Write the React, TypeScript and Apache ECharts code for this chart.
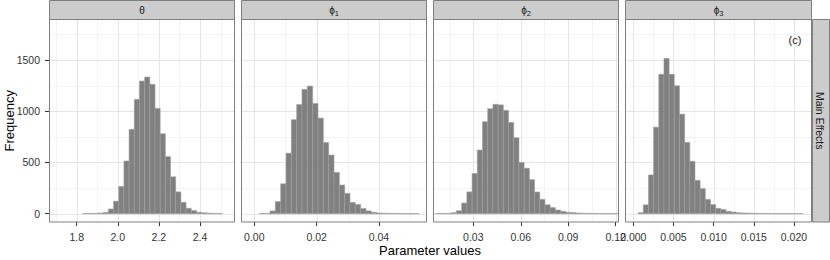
import React, { useEffect, useRef } from "react";
import * as echarts from "echarts";

// ---------- data ----------
const STRIP_SYMBOLS = ["θ", "ϕ", "ϕ", "ϕ"];
const STRIP_SUBS = ["", "1", "2", "3"];
const ROW_LABEL = "Main Effects";
const PANEL_TAG = "(c)";
const X_TITLE = "Parameter values";
const Y_TITLE = "Frequency";

const Y_TICKS = [0, 500, 1000, 1500];
const Y_MINOR = [250, 750, 1250, 1750];
const Y_RANGE = [-81, 1895];

// theta
const THETA_COUNTS = [1, 2, 3, 6, 13, 46, 122, 265, 514, 823, 1115, 1294, 1333, 1262, 1028, 780, 557, 360, 213, 111, 53, 31, 14, 9, 5, 3, 1];
const THETA_BIN_START = 1.8282;
const THETA_BIN_WIDTH = 0.0252;
const THETA_RANGE = [1.6652, 2.5703];
const THETA_TICKS = [1.8, 2.0, 2.2, 2.4];
const THETA_MINOR = [1.7, 1.9, 2.1, 2.3, 2.5];

// phi1
const PHI1_COUNTS = [1, 2, 27, 118, 292, 590, 917, 1065, 1213, 1245, 1076, 932, 694, 572, 403, 280, 198, 110, 90, 50, 27, 13, 7, 4, 3, 2, 2, 1, 1, 1];
const PHI1_BIN_START = 0.001618;
const PHI1_BIN_WIDTH = 0.001711;
const PHI1_RANGE = [-0.004267, 0.0554];
const PHI1_TICKS = [0.0, 0.02, 0.04];
const PHI1_MINOR = [0.01, 0.03, 0.05];

// phi2
const PHI2_COUNTS = [1, 2, 4, 10, 29, 104, 213, 392, 621, 898, 1025, 1067, 1062, 1008, 890, 741, 499, 444, 332, 211, 140, 87, 60, 36, 23, 13, 10, 6, 4, 3, 2, 2, 1, 1, 1];
const PHI2_BIN_START = 0.00621;
const PHI2_BIN_WIDTH = 0.00329;
const PHI2_RANGE = [0.004531, 0.12209];
const PHI2_TICKS = [0.03, 0.06, 0.09, 0.12];
const PHI2_MINOR = [0.015, 0.045, 0.075, 0.105];

// phi3
const PHI3_COUNTS = [10, 86, 378, 844, 1360, 1515, 1360, 1249, 971, 696, 511, 325, 244, 140, 89, 52, 42, 23, 16, 10, 7, 5, 4, 3, 2, 2, 1, 1, 1, 1, 1, 1];
const PHI3_BIN_START = 0.000601;
const PHI3_BIN_WIDTH = 0.000643;
const PHI3_RANGE = [-0.001033, 0.02224];
const PHI3_TICKS = [0.0, 0.005, 0.01, 0.015, 0.02];
const PHI3_MINOR = [0.0025, 0.0075, 0.0125, 0.0175];

// ---------- layout / style ----------
const FONT = '"Liberation Sans", Arial, Helvetica, sans-serif';
const PANEL_LEFT = [49, 241, 433, 625];
const PANEL_WIDTH = [186, 186, 186, 187];
const PANEL_TOP = 19.5;
const PANEL_BOTTOM = 222;
const STRIP_RIGHT_X = 812;
const BORDER = "#7f7f7f";
const STRIP_FILL = "#cccccc";
const MAJOR_GRID = "#e5e5e5";
const MINOR_GRID = "#f3f3f3";
const BAR_FILL = "#808080";
const BAR_STROKE = "#9e9e9e";
const TEXT = "#333333";

const PANELS = [
  { counts: THETA_COUNTS, start: THETA_BIN_START, width: THETA_BIN_WIDTH, range: THETA_RANGE, ticks: THETA_TICKS, minor: THETA_MINOR, dec: 1 },
  { counts: PHI1_COUNTS, start: PHI1_BIN_START, width: PHI1_BIN_WIDTH, range: PHI1_RANGE, ticks: PHI1_TICKS, minor: PHI1_MINOR, dec: 2 },
  { counts: PHI2_COUNTS, start: PHI2_BIN_START, width: PHI2_BIN_WIDTH, range: PHI2_RANGE, ticks: PHI2_TICKS, minor: PHI2_MINOR, dec: 2 },
  { counts: PHI3_COUNTS, start: PHI3_BIN_START, width: PHI3_BIN_WIDTH, range: PHI3_RANGE, ticks: PHI3_TICKS, minor: PHI3_MINOR, dec: 3 },
];

function vLineSeries(i: number, values: number[], color: string) {
  return {
    type: "custom",
    xAxisIndex: i,
    yAxisIndex: i,
    silent: true,
    z: 1,
    data: values.map((v) => [v, 0]),
    renderItem: (_p: any, api: any) => {
      const v = api.value(0);
      const a = api.coord([v, Y_RANGE[0]]);
      const b = api.coord([v, Y_RANGE[1]]);
      const x = Math.round(a[0]) + 0.5;
      return {
        type: "line",
        shape: { x1: x, y1: a[1], x2: x, y2: b[1] },
        style: { stroke: color, lineWidth: 1 },
      };
    },
  };
}

function hLineSeries(i: number, values: number[], color: string) {
  const r = PANELS[i].range;
  return {
    type: "custom",
    xAxisIndex: i,
    yAxisIndex: i,
    silent: true,
    z: 1,
    encode: { x: 1, y: 0 },
    data: values.map((v) => [v, r[0]]),
    renderItem: (_p: any, api: any) => {
      const v = api.value(0);
      const a = api.coord([r[0], v]);
      const b = api.coord([r[1], v]);
      const y = Math.round(a[1]) + 0.5;
      return {
        type: "line",
        shape: { x1: a[0], y1: y, x2: b[0], y2: y },
        style: { stroke: color, lineWidth: 1 },
      };
    },
  };
}

function histSeries(i: number) {
  const p = PANELS[i];
  const data = p.counts.map((c, k) => [p.start + p.width * k, p.start + p.width * (k + 1), c]);
  return {
    type: "custom",
    xAxisIndex: i,
    yAxisIndex: i,
    silent: true,
    z: 3,
    encode: { x: [0, 1], y: 2 },
    data,
    renderItem: (_p: any, api: any) => {
      const p0 = api.coord([api.value(0), 0]);
      const p1 = api.coord([api.value(1), api.value(2)]);
      return {
        type: "rect",
        shape: { x: p0[0], y: p1[1], width: p1[0] - p0[0], height: p0[1] - p1[1] },
        style: { fill: BAR_FILL, stroke: BAR_STROKE, lineWidth: 0.6 },
      };
    },
  };
}

export default function App() {
  const ref = useRef<HTMLDivElement>(null);

  useEffect(() => {
    if (!ref.current) return;
    const chart = echarts.init(ref.current, undefined, { renderer: "svg" });

    const grids = PANELS.map((_, i) => ({
      left: PANEL_LEFT[i],
      top: PANEL_TOP,
      width: PANEL_WIDTH[i],
      height: PANEL_BOTTOM - PANEL_TOP,
      show: true,
      backgroundColor: "#ffffff",
      borderWidth: 0,
    }));

    const xAxes = PANELS.map((p, i) => ({
      type: "value",
      gridIndex: i,
      position: "bottom",
      min: p.range[0],
      max: p.range[1],
      axisLine: { show: false, onZero: false },
      splitLine: { show: false },
      axisTick: { show: true, customValues: p.ticks, length: 4, lineStyle: { color: TEXT, width: 1 } },
      axisLabel: {
        show: true,
        customValues: p.ticks,
        formatter: (v: number) => v.toFixed(p.dec),
        fontSize: 10.5,
        fontFamily: FONT,
        color: TEXT,
        margin: 9,
      },
    }));

    const yAxes = PANELS.map((_, i) => ({
      type: "value",
      gridIndex: i,
      position: "left",
      min: Y_RANGE[0],
      max: Y_RANGE[1],
      axisLine: { show: false, onZero: false },
      splitLine: { show: false },
      axisTick: { show: i === 0, customValues: Y_TICKS, length: 4, lineStyle: { color: TEXT, width: 1 } },
      axisLabel: {
        show: i === 0,
        customValues: Y_TICKS,
        formatter: (v: number) => String(Math.round(v)),
        fontSize: 10.5,
        fontFamily: FONT,
        color: TEXT,
        margin: 9,
      },
    }));

    const series: any[] = [];
    PANELS.forEach((p, i) => {
      series.push(vLineSeries(i, p.minor, MINOR_GRID));
      series.push(hLineSeries(i, Y_MINOR, MINOR_GRID));
      series.push(vLineSeries(i, p.ticks, MAJOR_GRID));
      series.push(hLineSeries(i, Y_TICKS, MAJOR_GRID));
      series.push(histSeries(i));
    });

    const graphic: any[] = [];
    PANELS.forEach((_, i) => {
      const l = PANEL_LEFT[i];
      const w = PANEL_WIDTH[i];
      graphic.push({
        type: "rect",
        z: 100,
        silent: true,
        shape: { x: l + 0.5, y: 0.5, width: w - 1, height: PANEL_TOP - 0.5 },
        style: { fill: STRIP_FILL, stroke: BORDER, lineWidth: 1 },
      });
      graphic.push({
        type: "rect",
        z: 100,
        silent: true,
        shape: { x: l + 0.5, y: PANEL_TOP, width: w - 1, height: PANEL_BOTTOM - PANEL_TOP },
        style: { fill: "transparent", stroke: BORDER, lineWidth: 1 },
      });
      const sub = STRIP_SUBS[i];
      graphic.push({
        type: "text",
        z: 101,
        silent: true,
        x: l + w / 2,
        y: 10,
        style: {
          text: sub ? `{g|${STRIP_SYMBOLS[i]}}{s|${sub}}` : `{g|${STRIP_SYMBOLS[i]}}`,
          align: "center",
          verticalAlign: "middle",
          fill: "#1a1a1a",
          fontFamily: FONT,
          rich: {
            g: { fontSize: 10, fontFamily: FONT, fill: "#1a1a1a", lineHeight: 14, verticalAlign: "middle" },
            s: { fontSize: 7.5, fontFamily: FONT, fill: "#1a1a1a", lineHeight: 8, verticalAlign: "bottom" },
          },
        },
      });
    });

    // right strip
    graphic.push({
      type: "rect",
      z: 100,
      silent: true,
      shape: { x: STRIP_RIGHT_X + 0.5, y: PANEL_TOP, width: 830 - STRIP_RIGHT_X - 1, height: PANEL_BOTTOM - PANEL_TOP },
      style: { fill: STRIP_FILL, stroke: BORDER, lineWidth: 1 },
    });
    graphic.push({
      type: "text",
      z: 101,
      silent: true,
      x: 820,
      y: (PANEL_TOP + PANEL_BOTTOM) / 2,
      rotation: -Math.PI / 2,
      style: { text: ROW_LABEL, align: "center", verticalAlign: "middle", fontSize: 10.5, fontFamily: FONT, fill: "#1a1a1a" },
    });
    graphic.push({
      type: "text",
      z: 101,
      silent: true,
      x: 795,
      y: 40,
      style: { text: PANEL_TAG, align: "center", verticalAlign: "middle", fontSize: 11, fontFamily: FONT, fill: "#1a1a1a" },
    });
    graphic.push({
      type: "text",
      z: 101,
      silent: true,
      x: 9,
      y: (PANEL_TOP + PANEL_BOTTOM) / 2,
      rotation: Math.PI / 2,
      style: { text: Y_TITLE, align: "center", verticalAlign: "middle", fontSize: 13, fontFamily: FONT, fill: "#000000" },
    });
    graphic.push({
      type: "text",
      z: 101,
      silent: true,
      x: 430,
      y: 250,
      style: { text: X_TITLE, align: "center", verticalAlign: "middle", fontSize: 13, fontFamily: FONT, fill: "#000000" },
    });

    chart.setOption({
      animation: false,
      backgroundColor: "#ffffff",
      textStyle: { fontFamily: FONT },
      grid: grids,
      xAxis: xAxes,
      yAxis: yAxes,
      series,
      graphic,
    });

    return () => chart.dispose();
  }, []);

  return (
    <div
      ref={ref}
      style={{ position: "absolute", left: 0, top: 0, width: 830, height: 260, background: "#fff" }}
    />
  );
}
